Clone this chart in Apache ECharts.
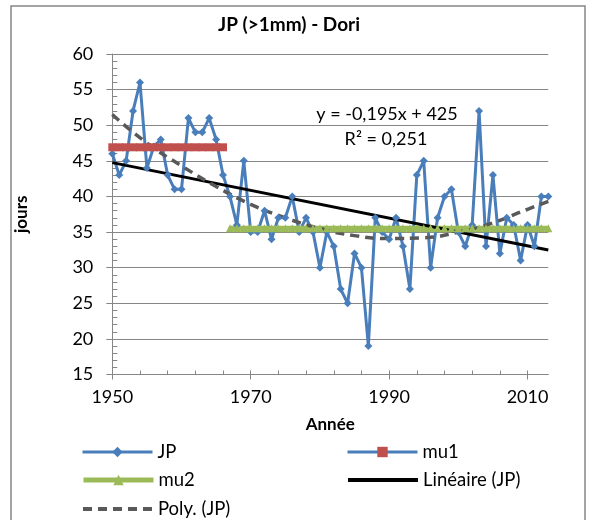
<!DOCTYPE html>
<html><head><meta charset="utf-8">
<script src="https://cdn.jsdelivr.net/npm/echarts@6/dist/echarts.min.js"></script>
<style>html,body{margin:0;padding:0;background:#fff}#c{width:591px;height:520px}</style>
</head><body><div id="c"></div>
<script>
// ---- data ----
const years = [1950,1951,1952,1953,1954,1955,1956,1957,1958,1959,
  1960,1961,1962,1963,1964,1965,1966,1967,1968,1969,
  1970,1971,1972,1973,1974,1975,1976,1977,1978,1979,
  1980,1981,1982,1983,1984,1985,1986,1987,1988,1989,
  1990,1991,1992,1993,1994,1995,1996,1997,1998,1999,
  2000,2001,2002,2003,2004,2005,2006,2007,2008,2009,
  2010,2011,2012,2013];
const jp = [46,43,45,52,56,44,47,48,43,41,
  41,51,49,49,51,48,43,40,36,45,
  35,35,38,34,37,37,40,35,37,35,
  30,35,33,27,25,32,30,19,37,35,
  34,37,33,27,43,45,30,37,40,41,
  35,33,36,52,33,43,32,37,36,31,
  36,33,40,40];
const mu1Start = 1950, mu1End = 1966, mu1Value = 46.9;
const mu2Start = 1967, mu2End = 2013, mu2Value = 35.55;
const linX = [1950, 2013];
const linY = [44.75, 32.47];
const polyX = [1950,1955,1960,1965,1970,1975,1980,1985,1990,1995,2000,2005,2010,2013];
const polyY = [51.5,47.5,44.3,41.4,38.9,37.0,35.5,34.5,34.1,34.2,35.0,36.3,38.2,39.3];
const xMajorTicks = [1950,1970,1990,2010];
const xMinorTicks = [1950,1954,1958,1962,1966,1970,1974,1978,1982,1986,1990,1994,1998,2002,2006,2010];
const yMin = 15, yMax = 60, yStep = 5;
const titleText = 'JP (>1mm) - Dori';
const eqText = 'y = -0,195x + 425';
const r2Text = 'R² = 0,251';
const names = ['JP','mu1','mu2','Linéaire (JP)','Poly. (JP)'];

// ---- build ----
const FONT = 'Lato, "Open Sans", sans-serif';
const GRAY = '#868686';
const jpData = years.map((y,i)=>[y, jp[i]]);
const mu1Data = years.filter(y=>y>=mu1Start && y<=mu1End).map(y=>[y, mu1Value]);
const mu2Data = years.filter(y=>y>=mu2Start && y<=mu2End).map(y=>[y, mu2Value]);
const linData = linX.map((x,i)=>[x, linY[i]]);
const polyData = polyX.map((x,i)=>[x, polyY[i]]);

const chart = echarts.init(document.getElementById('c'), null, {renderer:'canvas'});
const legendBase = {padding:0, itemWidth:70, itemHeight:13, selectedMode:false,
  textStyle:{fontFamily:FONT, fontSize:18.5, color:'#000', lineHeight:20}};
chart.setOption({
  animation:false,
  backgroundColor:'#fff',
  grid:{left:112.3, right:42.7, top:54, bottom:145.5},
  xAxis:[{
    type:'value', min:1950, max:2013, position:'bottom',
    axisLine:{show:true, lineStyle:{color:GRAY, width:1}},
    axisTick:{show:true, inside:false, length:5, customValues:xMajorTicks, lineStyle:{color:GRAY}},
    axisLabel:{customValues:xMajorTicks, formatter:v=>String(v), fontFamily:FONT, fontSize:18, color:'#000', margin:14},
    splitLine:{show:false},
    name:'Année', nameLocation:'middle', nameGap:42,
    nameTextStyle:{fontFamily:FONT, fontSize:17, fontWeight:'bold', color:'#000'}
  },{
    type:'value', min:1950, max:2013, position:'bottom', offset:0,
    axisLine:{show:false},
    axisTick:{show:true, inside:true, length:4, customValues:xMinorTicks, lineStyle:{color:GRAY}},
    axisLabel:{show:false}, splitLine:{show:false}
  }],
  yAxis:[{
    type:'value', min:yMin, max:yMax, interval:yStep,
    axisLine:{show:true, lineStyle:{color:GRAY, width:1}},
    axisTick:{show:true, inside:false, length:6, lineStyle:{color:GRAY}},
    axisLabel:{fontFamily:FONT, fontSize:18, color:'#000', margin:19},
    splitLine:{show:true, lineStyle:{color:GRAY, width:1}},
    name:'jours', nameLocation:'middle', nameGap:82, nameRotate:90,
    nameTextStyle:{fontFamily:FONT, fontSize:17, fontWeight:'bold', color:'#000'}
  },{
    type:'value', min:yMin, max:yMax, interval:1, position:'left', offset:0,
    axisLine:{show:false},
    axisTick:{show:true, inside:true, length:5, lineStyle:{color:GRAY}},
    axisLabel:{show:false}, splitLine:{show:false}
  }],
  legend:[
    Object.assign({}, legendBase, {data:['JP'], left:81, top:442, lineStyle:{width:3}}),
    Object.assign({}, legendBase, {data:['mu1'], left:346, top:442, lineStyle:{width:3}}),
    Object.assign({}, legendBase, {data:['mu2'], left:81, top:470, lineStyle:{width:5}}),
    Object.assign({}, legendBase, {data:[{name:'Linéaire (JP)', itemStyle:{opacity:0}}], left:346, top:470, lineStyle:{width:4}}),
    Object.assign({}, legendBase, {data:[{name:'Poly. (JP)', itemStyle:{opacity:0}}], left:81, top:499, lineStyle:{width:4}})
  ],
  graphic:[
    {type:'rect', shape:{x:11, y:6, width:574, height:540}, style:{fill:'none', stroke:GRAY, lineWidth:1.5}, silent:true},
    {type:'text', x:289, y:25, style:{text:titleText, fontFamily:FONT, fontSize:19, fontWeight:'bold', fill:'#000', textAlign:'center', textVerticalAlign:'middle'}},
    {type:'text', x:387, y:114, z:100, style:{text:eqText, fontFamily:FONT, fontSize:18, fill:'#000', textAlign:'center', textVerticalAlign:'middle'}},
    {type:'text', x:386, y:139, z:100, style:{text:r2Text, fontFamily:FONT, fontSize:18, fill:'#000', textAlign:'center', textVerticalAlign:'middle'}}
  ],
  series:[
    {name:names[0], type:'line', data:jpData, symbol:'diamond', symbolSize:8,
      lineStyle:{color:'#4A7EBB', width:3}, itemStyle:{color:'#4A7EBB'}},
    {name:names[1], type:'line', data:mu1Data, symbol:'rect', symbolSize:8,
      lineStyle:{color:'#4A7EBB', width:3}, itemStyle:{color:'#C0504D'}},
    {name:names[2], type:'line', data:mu2Data, symbol:'triangle', symbolSize:8,
      lineStyle:{color:'#9BBB59', width:5}, itemStyle:{color:'#9BBB59'}},
    {name:names[3], type:'line', data:linData, symbol:'none',
      lineStyle:{color:'#000', width:3}, itemStyle:{color:'#000'}},
    {name:names[4], type:'line', data:polyData, symbol:'none', smooth:true,
      lineStyle:{color:'#595959', width:3.5, type:[9,6]}, itemStyle:{color:'#595959'}}
  ]
});
</script></body></html>
